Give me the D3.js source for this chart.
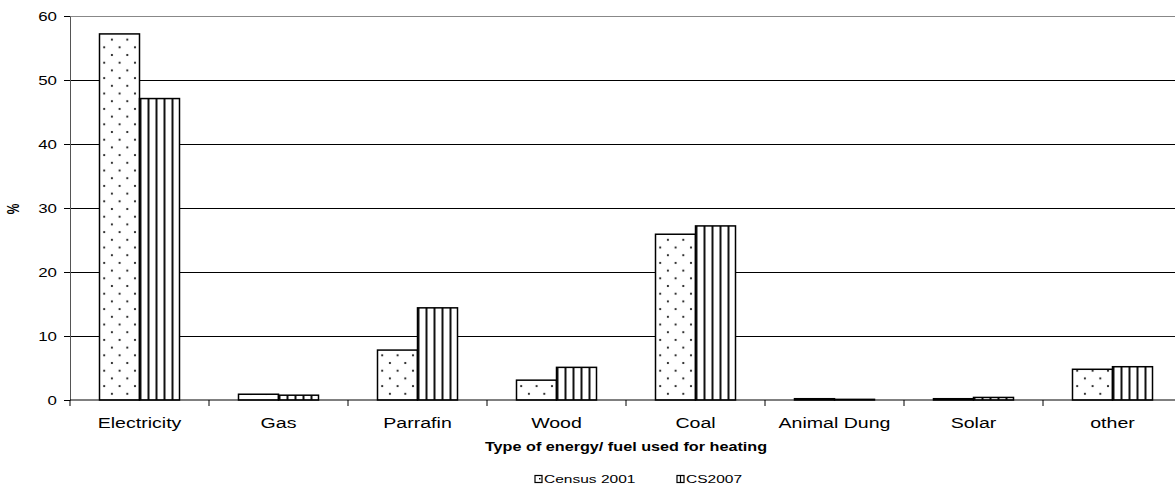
<!DOCTYPE html>
<html>
<head>
<meta charset="utf-8">
<script src="https://cdn.jsdelivr.net/npm/d3@7"></script>
<style>
  body { margin: 0; background: #fff; }
  svg { display: block; font-family: Arial, "Liberation Sans", sans-serif; }
</style>
</head>
<body>
<div id="chart"></div>
<script>
// data
var categories = ["Electricity", "Gas", "Parrafin", "Wood", "Coal", "Animal Dung", "Solar", "other"];
var seriesNames = ["Census 2001", "CS2007"];
var census2001 = [57.2, 0.9, 7.8, 3.1, 25.9, 0.2, 0.2, 4.8];
var cs2007 = [47.1, 0.75, 14.4, 5.1, 27.2, 0.1, 0.4, 5.2];
var yTicks = [0, 10, 20, 30, 40, 50, 60];

var W = 1175, H = 487;
var sx = 1.35; // the original picture is stretched sideways

var svg = d3.select("#chart").append("svg")
  .attr("width", W).attr("height", H);

var defs = svg.append("defs");

// dotted fill for Census 2001
var dots = defs.append("pattern")
  .attr("id", "dots")
  .attr("patternUnits", "userSpaceOnUse")
  .attr("x", 103.5).attr("y", 55)
  .attr("width", 15.4).attr("height", 15.4);
dots.append("rect").attr("width", 15.4).attr("height", 15.4).attr("fill", "#fff");
[[0, 0], [7.7, 7.7], [15.4, 15.4], [15.4, 0], [0, 15.4]].forEach(function(p) {
  dots.append("rect").attr("x", p[0] - 1).attr("y", p[1] - 1)
    .attr("width", 2).attr("height", 2).attr("fill", "#333");
});

// vertical stripes for CS2007, one tile = 1/5 of the bar
var stripes = defs.append("pattern")
  .attr("id", "stripes")
  .attr("patternUnits", "objectBoundingBox")
  .attr("width", 0.2).attr("height", 1);
stripes.append("rect").attr("width", 8).attr("height", 1000).attr("fill", "#fff");
stripes.append("rect").attr("x", 0).attr("width", 2).attr("height", 1000).attr("fill", "#111");

var mLeft = 70, mRight = 1182, mTop = 16, mBottom = 400;

var x0 = d3.scaleBand().domain(categories).range([mLeft, mRight]).padding(0);
var x1 = d3.scaleBand().domain(seriesNames).range([0, x0.bandwidth()])
  .paddingInner(0).paddingOuter(0.7375);
var y = d3.scaleLinear().domain([0, 60]).range([mBottom, mTop]);

// gridlines
svg.append("g").selectAll("line").data(yTicks.slice(1)).enter().append("line")
  .attr("x1", mLeft).attr("x2", mRight)
  .attr("y1", function(d) { return y(d); }).attr("y2", function(d) { return y(d); })
  .attr("stroke", function(d) { return d == 60 ? "#888" : "#000"; })
  .attr("stroke-width", 1)
  .attr("shape-rendering", "crispEdges");

// bars
var rows = categories.map(function(c, i) {
  return [
    { cat: c, s: seriesNames[0], v: census2001[i], fill: "url(#dots)" },
    { cat: c, s: seriesNames[1], v: cs2007[i], fill: "url(#stripes)" }
  ];
});

svg.append("g").selectAll("g").data(rows).enter().append("g")
  .attr("transform", function(d) { return "translate(" + x0(d[0].cat) + ",0)"; })
  .selectAll("rect").data(function(d) { return d; }).enter().append("rect")
    .attr("x", function(d) { return x1(d.s); })
    .attr("width", x1.bandwidth())
    .attr("y", function(d) { return y(d.v); })
    .attr("height", function(d) { return y(0) - y(d.v); })
    .attr("fill", function(d) { return d.fill; })
    .attr("stroke", "#000")
    .attr("stroke-width", 1.5);

// y axis
var yAxis = svg.append("g").attr("transform", "translate(" + mLeft + ",0)")
  .call(d3.axisLeft(y).tickValues(yTicks).tickSize(6).tickSizeOuter(0));
yAxis.select(".domain").attr("stroke", "#555");
yAxis.selectAll(".tick line").attr("stroke", "#000");
yAxis.selectAll(".tick text")
  .attr("font-size", 12.5).attr("fill", "#000")
  .attr("x", 0).attr("dy", "0.36em")
  .attr("transform", "translate(-13,0) scale(" + sx + ",1)");

// x axis
svg.append("line")
  .attr("x1", mLeft).attr("x2", mRight).attr("y1", mBottom).attr("y2", mBottom)
  .attr("stroke", "#000");
svg.append("g").selectAll("line").data(categories).enter().append("line")
  .attr("x1", function(d) { return x0(d); }).attr("x2", function(d) { return x0(d); })
  .attr("y1", mBottom).attr("y2", mBottom + 6)
  .attr("stroke", "#000");

svg.append("g").selectAll("text").data(categories).enter().append("text")
  .attr("transform", function(d) {
    return "translate(" + (x0(d) + x0.bandwidth() / 2) + ",428) scale(" + sx + ",1)";
  })
  .attr("text-anchor", "middle")
  .attr("font-size", 14.5)
  .text(function(d) { return d; });

// axis titles
svg.append("text")
  .attr("transform", "translate(626,451) scale(" + sx + ",1)")
  .attr("text-anchor", "middle")
  .attr("font-size", 12).attr("font-weight", "bold")
  .text("Type of energy/ fuel used for heating");

svg.append("text")
  .attr("transform", "translate(19,209) rotate(-90) scale(1," + sx + ")")
  .attr("text-anchor", "middle")
  .attr("font-size", 12).attr("font-weight", "bold")
  .text("%");

// legend
var legend = svg.append("g").attr("transform", "translate(0,479)");
var legItems = [
  { name: seriesNames[0], x: 535, kind: "dots" },
  { name: seriesNames[1], x: 677, kind: "stripes" }
];
legItems.forEach(function(it) {
  var g = legend.append("g").attr("transform", "translate(" + it.x + ",0)");
  g.append("rect").attr("x", 0).attr("y", -3.5).attr("width", 7).attr("height", 7)
    .attr("fill", "#fff").attr("stroke", "#000").attr("stroke-width", 1.2);
  if (it.kind == "dots") {
    g.append("rect").attr("x", 4).attr("y", -1).attr("width", 1.5).attr("height", 1.5).attr("fill", "#000");
  } else {
    g.append("line").attr("x1", 3.5).attr("x2", 3.5).attr("y1", -3.5).attr("y2", 3.5)
      .attr("stroke", "#000").attr("stroke-width", 1.2);
  }
  g.append("text")
    .attr("transform", "translate(9,4) scale(" + sx + ",1)")
    .attr("font-size", 11.5)
    .text(it.name);
});
</script>
</body>
</html>
